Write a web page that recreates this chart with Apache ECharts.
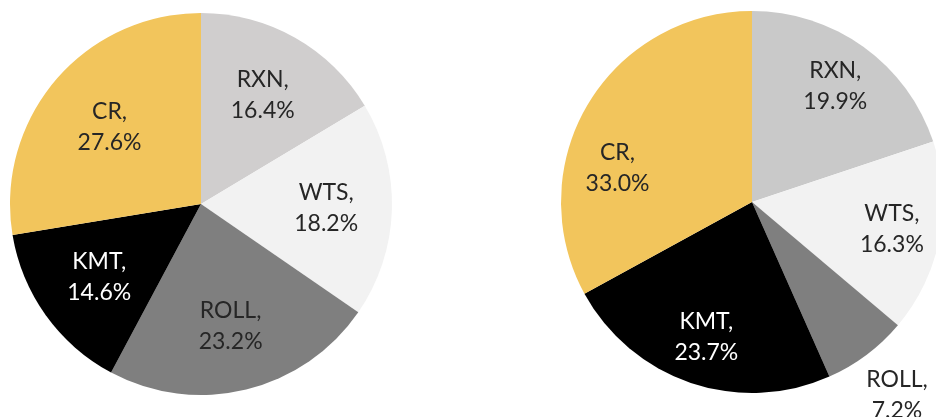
<!DOCTYPE html>
<html>
<head>
<meta charset="utf-8">
<script src="https://cdn.jsdelivr.net/npm/echarts@6/dist/echarts.min.js"></script>
<style>
  html, body { margin: 0; padding: 0; background: #ffffff; }
  #chart { width: 936px; height: 417px; }
</style>
</head>
<body>
<div id="chart"></div>
<script>
// Category order, clockwise from 12 o'clock
const categories = ['RXN', 'WTS', 'ROLL', 'KMT', 'CR'];
// Shares (%) for the two pies
const leftValues = [16.4, 18.2, 23.2, 14.6, 27.6];
const rightValues = [19.9, 16.3, 7.2, 23.7, 33.0];

const leftColors = ['#d0cece', '#f2f2f2', '#7f7f7f', '#000000', '#f2c55c'];
const rightColors = ['#c9c9c9', '#f2f2f2', '#7f7f7f', '#000000', '#f2c55c'];
const labelColors = ['#262626', '#262626', '#262626', '#ffffff', '#262626'];

const R = 191;
const FONT = 'Lato, "Open Sans", sans-serif';

function sliceData(values, colors) {
  return categories.map((name, i) => ({ name, value: values[i], itemStyle: { color: colors[i] } }));
}

// label-only items; nudge lets one label sit lower in its slice
function labelData(values, showFn, nudge) {
  return categories.map((name, i) => {
    const label = { show: showFn(i), color: labelColors[i] };
    if (nudge && nudge[name]) label.offset = nudge[name];
    return { name, value: values[i], label };
  });
}

const baseLabel = {
  position: 'inside',
  fontFamily: FONT,
  fontSize: 23,
  lineHeight: 31,
  formatter: p => p.name + ',\n' + p.value.toFixed(1) + '%'
};

function piePart(center, radius, data, label) {
  return {
    type: 'pie',
    center, radius,
    startAngle: 90,
    clockwise: true,
    animation: false,
    silent: true,
    avoidLabelOverlap: false,
    labelLine: { show: false },
    emphasis: { disabled: true },
    label,
    data
  };
}

const transparent = { color: 'rgba(0,0,0,0)', borderWidth: 0 };

const option = {
  backgroundColor: '#ffffff',
  series: [
    // left pie slices
    Object.assign(piePart([201, 204], [0, R], sliceData(leftValues, leftColors), { show: false }),
      { itemStyle: { borderWidth: 0 } }),
    // left pie labels
    Object.assign(piePart([201, 204], [R * 0.28, R], labelData(leftValues, () => true, { CR: [4, 4] }), baseLabel),
      { itemStyle: transparent }),
    // right pie slices
    Object.assign(piePart([752, 202], [0, R], sliceData(rightValues, rightColors), { show: false }),
      { itemStyle: { borderWidth: 0 } }),
    // right pie labels inside the slices
    Object.assign(piePart([752, 202], [R * 0.46, R],
      labelData(rightValues, i => categories[i] !== 'ROLL', { CR: [-12, 39] }), baseLabel),
      { itemStyle: transparent }),
    // right pie label set outside the small ROLL slice
    Object.assign(piePart([752, 202], [R * 1.1, R * 1.4], labelData(rightValues, i => categories[i] === 'ROLL'), baseLabel),
      { itemStyle: transparent })
  ]
};

const chart = echarts.init(document.getElementById('chart'), null, { renderer: 'canvas' });
chart.setOption(option);
</script>
</body>
</html>
